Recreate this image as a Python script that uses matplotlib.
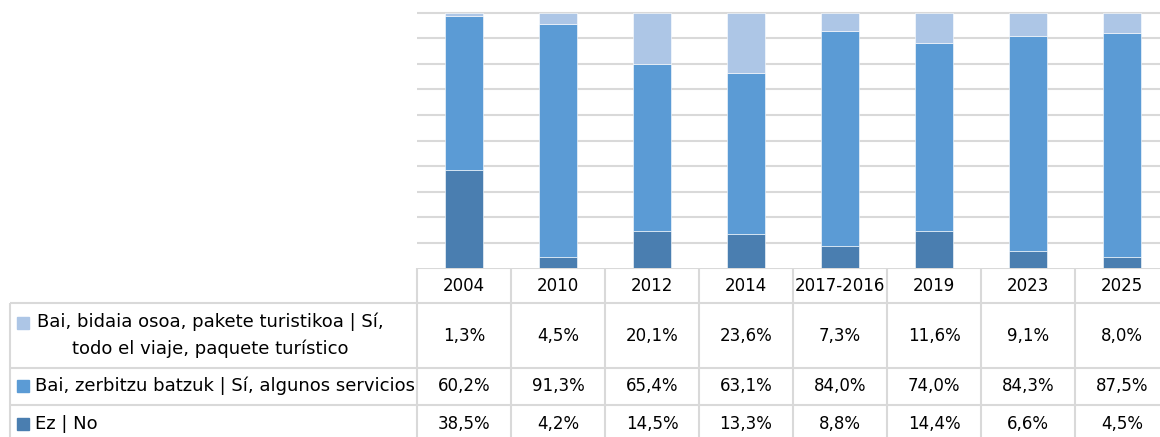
import matplotlib
matplotlib.use("Agg")
import matplotlib.pyplot as plt
from matplotlib.patches import Rectangle

plt.rcParams['font.family'] = ['DejaVu Sans']

# datos
years = ['2004', '2010', '2012', '2014', '2017-2016', '2019', '2023', '2025']
ez_no = [38.5, 4.2, 14.5, 13.3, 8.8, 14.4, 6.6, 4.5]
zerbitzu = [60.2, 91.3, 65.4, 63.1, 84.0, 74.0, 84.3, 87.5]
paketea = [1.3, 4.5, 20.1, 23.6, 7.3, 11.6, 9.1, 8.0]

labels = ['Bai, bidaia osoa, pakete turistikoa | Sí,\ntodo el viaje, paquete turístico',
          'Bai, zerbitzu batzuk | Sí, algunos servicios',
          'Ez | No']
colors = ['#adc6e6', '#5b9bd5', '#4a7eb0']
grid_c = '#d9d9d9'

W, H = 1160, 437
x0 = 417      # borde izquierdo del area de barras (px)
colw = 94     # ancho de cada columna (px)
y0 = 268      # linea base (px desde arriba)
y100 = 13     # linea del 100%

fig = plt.figure(figsize=(W / 100, H / 100), dpi=100)

# --- barras ---
ax = fig.add_axes([x0 / W, (H - y0) / H, (W - x0) / W, y0 / H])
xs = list(range(len(years)))
bot = [0] * len(years)
for vals, c in [(ez_no, colors[2]), (zerbitzu, colors[1]), (paketea, colors[0])]:
    ax.bar(xs, vals, bottom=bot, width=0.4, color=c, edgecolor='#ffffff', linewidth=0.4, zorder=3)
    bot = [b + v for b, v in zip(bot, vals)]
ax.set_xlim(-0.5, -0.5 + (W - x0) / colw)
ax.set_ylim(0, 100 * y0 / (y0 - y100))
ax.set_yticks(range(10, 101, 10))
ax.yaxis.grid(True, color=grid_c, linewidth=1.5)
ax.tick_params(length=0, labelleft=False, labelbottom=False)
for s in ax.spines.values():
    s.set_visible(False)

# --- tabla ---
tx = fig.add_axes([0, 0, 1, (H - y0) / H])
xmin = -0.5 - x0 / colw
tx.set_xlim(xmin, -0.5 + (W - x0) / colw)
tx.set_ylim(H, y0)
tx.axis('off')

def px(p):
    return (p - x0) / colw - 0.5

left = px(10)
rows = [268, 303, 368, 405, 445]
lkw = dict(color=grid_c, linewidth=1.5, clip_on=True)
tx.hlines(rows[0], -0.5, 8, **lkw)
for r in rows[1:4]:
    tx.hlines(r, left, 8, **lkw)
tx.vlines([i - 0.5 for i in range(len(years) + 1)], rows[0], H + 5, **lkw)
tx.vlines(left, rows[1], H + 5, **lkw)

fs = 12
for i, y in enumerate(years):
    tx.text(i, 286, y, ha='center', va='center', fontsize=fs)

series = [paketea, zerbitzu, ez_no]
row_c = [336, 386, 424]
for k, (vals, yc) in enumerate(zip(series, row_c)):
    for i, v in enumerate(vals):
        tx.text(i, yc, ('%.1f%%' % v).replace('.', ','), ha='center', va='center', fontsize=fs)

# leyenda dentro de la tabla
fl = 13
mk = 12 / colw
tx.add_patch(Rectangle((px(17), 317), mk, 12, color=colors[0]))
tx.text(px(210), 335, labels[0], ha='center', va='center', fontsize=fl,
        multialignment='center', linespacing=1.6)
tx.add_patch(Rectangle((px(17), 380), mk, 12, color=colors[1]))
tx.text(px(35), 386, labels[1], ha='left', va='center', fontsize=fl)
tx.add_patch(Rectangle((px(17), 418), mk, 12, color=colors[2]))
tx.text(px(35), 424, labels[2], ha='left', va='center', fontsize=fl)

fig.savefig('out.png', dpi=100)
